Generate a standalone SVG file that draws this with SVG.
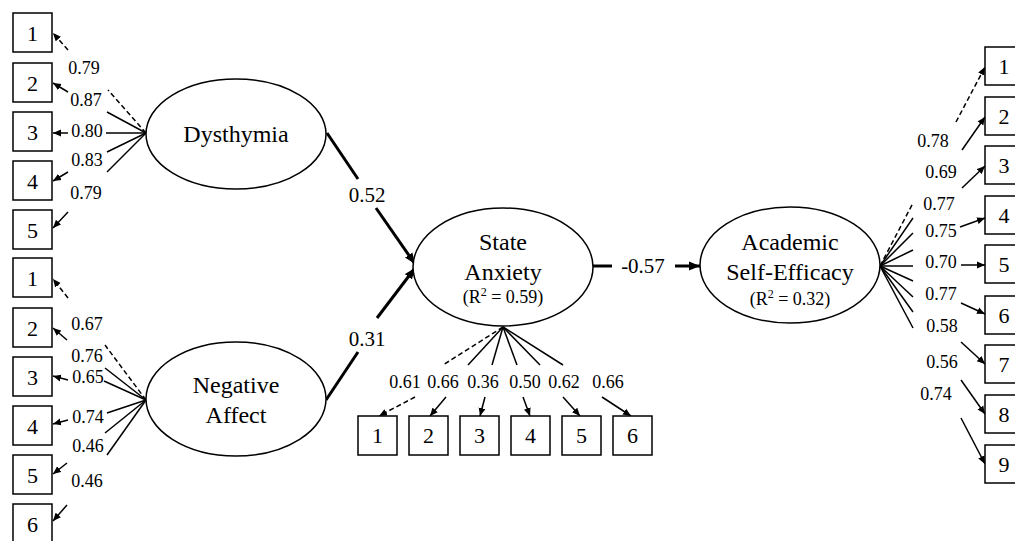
<svg xmlns="http://www.w3.org/2000/svg" width="1015" height="541" viewBox="0 0 1015 541">
<style>
text{font-family:"Liberation Serif","Times New Roman",serif;fill:#000}
.box{fill:#fff;stroke:#000;stroke-width:1.5}
.lat{fill:#fff;stroke:#000;stroke-width:1.5}
.dig{font-size:22px;text-anchor:middle}
.lt{font-size:24px;text-anchor:middle}
.r2{font-size:18px;text-anchor:middle}
.lab{font-size:18px;text-anchor:middle}
.slab{font-size:21px;text-anchor:middle}
.f{stroke:#000;stroke-width:1.5;fill:none}
.d{stroke-dasharray:5,3}
.a{marker-end:url(#ah)}
.s{stroke:#000;stroke-width:3;fill:none}
.sa{marker-end:url(#ahb)}
</style>
<defs>
<marker id="ah" markerUnits="userSpaceOnUse" markerWidth="9" markerHeight="8" refX="8" refY="4" orient="auto">
<path d="M0,0.5 L8,4 L0,7.5 z" fill="#000"/>
</marker>
<marker id="ahb" markerUnits="userSpaceOnUse" markerWidth="12" markerHeight="10" refX="11" refY="5" orient="auto">
<path d="M0,0.5 L11,5 L0,9.5 z" fill="#000"/>
</marker>
</defs>
<rect width="1015" height="541" fill="#fff"/>

<g id="connectors">
<!-- Dysthymia fan -->
<line class="f d" x1="146" y1="133" x2="108" y2="90"/>
<line class="f" x1="146" y1="133" x2="107" y2="112"/>
<line class="f" x1="146" y1="133" x2="106" y2="133"/>
<line class="f" x1="146" y1="133" x2="107" y2="152"/>
<line class="f" x1="146" y1="133" x2="107" y2="172"/>
<line class="f d a" x1="68" y1="50" x2="53" y2="33"/>
<line class="f a" x1="68" y1="92" x2="53" y2="83"/>
<line class="f a" x1="68" y1="133" x2="53" y2="133"/>
<line class="f a" x1="68" y1="172" x2="53" y2="181"/>
<line class="f a" x1="68" y1="212" x2="53" y2="228"/>
<!-- Negative Affect fan -->
<line class="f d" x1="146" y1="400" x2="105" y2="345"/>
<line class="f" x1="146" y1="400" x2="105" y2="368"/>
<line class="f" x1="146" y1="400" x2="104" y2="381"/>
<line class="f" x1="146" y1="400" x2="107" y2="413"/>
<line class="f" x1="146" y1="400" x2="105" y2="433"/>
<line class="f" x1="146" y1="400" x2="107" y2="455"/>
<line class="f d a" x1="68" y1="298" x2="53" y2="279"/>
<line class="f a" x1="67" y1="340" x2="53" y2="328"/>
<line class="f a" x1="68" y1="380" x2="53" y2="376"/>
<line class="f a" x1="68" y1="420" x2="53" y2="424"/>
<line class="f a" x1="67" y1="463" x2="53" y2="474"/>
<line class="f a" x1="67" y1="505" x2="53" y2="521"/>
<!-- State Anxiety fan -->
<line class="f d" x1="503" y1="327" x2="443" y2="365"/>
<line class="f" x1="503" y1="327" x2="468" y2="365"/>
<line class="f" x1="503" y1="327" x2="492" y2="365"/>
<line class="f" x1="503" y1="327" x2="517" y2="365"/>
<line class="f" x1="503" y1="327" x2="540" y2="365"/>
<line class="f" x1="503" y1="327" x2="563" y2="365"/>
<line class="f d a" x1="415" y1="397" x2="379" y2="416"/>
<line class="f a" x1="446" y1="397" x2="430" y2="416"/>
<line class="f a" x1="485" y1="397" x2="480" y2="416"/>
<line class="f a" x1="523" y1="397" x2="530" y2="416"/>
<line class="f a" x1="563" y1="397" x2="580" y2="416"/>
<line class="f a" x1="602" y1="397" x2="631" y2="416"/>
<!-- Academic Self-Efficacy fan -->
<line class="f d" x1="880" y1="266" x2="913" y2="203"/>
<line class="f" x1="880" y1="266" x2="913" y2="218"/>
<line class="f" x1="880" y1="266" x2="913" y2="233"/>
<line class="f" x1="880" y1="266" x2="913" y2="250"/>
<line class="f" x1="880" y1="266" x2="913" y2="266"/>
<line class="f" x1="880" y1="266" x2="913" y2="281"/>
<line class="f" x1="880" y1="266" x2="913" y2="297"/>
<line class="f" x1="880" y1="266" x2="913" y2="312"/>
<line class="f" x1="880" y1="266" x2="913" y2="328"/>
<line class="f d a" x1="956" y1="122" x2="985" y2="67"/>
<line class="f a" x1="962" y1="150" x2="985" y2="117"/>
<line class="f a" x1="962" y1="188" x2="985" y2="166"/>
<line class="f a" x1="960" y1="227" x2="985" y2="218"/>
<line class="f a" x1="961" y1="265" x2="985" y2="265"/>
<line class="f a" x1="961" y1="303" x2="985" y2="314"/>
<line class="f a" x1="961" y1="342" x2="985" y2="364"/>
<line class="f a" x1="961" y1="380" x2="985" y2="414"/>
<line class="f a" x1="961" y1="418" x2="985" y2="464"/>
<!-- structural paths -->
<line class="s" x1="327" y1="133" x2="358" y2="179"/>
<line class="s sa" x1="376" y1="208" x2="415" y2="264"/>
<line class="s" x1="326" y1="400" x2="358" y2="352"/>
<line class="s sa" x1="377" y1="318" x2="415" y2="268"/>
<line class="s" x1="593" y1="266" x2="612" y2="266"/>
<line class="s sa" x1="675" y1="266" x2="700" y2="266"/>
<!-- labels -->
<text class="lab" x="84" y="74">0.79</text>
<text class="lab" x="86" y="106">0.87</text>
<text class="lab" x="87" y="137">0.80</text>
<text class="lab" x="87" y="166">0.83</text>
<text class="lab" x="86" y="199">0.79</text>
<text class="lab" x="87" y="330">0.67</text>
<text class="lab" x="87" y="362">0.76</text>
<text class="lab" x="88" y="383">0.65</text>
<text class="lab" x="88" y="423">0.74</text>
<text class="lab" x="88" y="452">0.46</text>
<text class="lab" x="87" y="487">0.46</text>
<text class="lab" x="405" y="388">0.61</text>
<text class="lab" x="443" y="388">0.66</text>
<text class="lab" x="483" y="388">0.36</text>
<text class="lab" x="525" y="388">0.50</text>
<text class="lab" x="564" y="388">0.62</text>
<text class="lab" x="608" y="388">0.66</text>
<text class="lab" x="933" y="147">0.78</text>
<text class="lab" x="941" y="178">0.69</text>
<text class="lab" x="939" y="210">0.77</text>
<text class="lab" x="941" y="237">0.75</text>
<text class="lab" x="941" y="268">0.70</text>
<text class="lab" x="941" y="300">0.77</text>
<text class="lab" x="942" y="332">0.58</text>
<text class="lab" x="942" y="368">0.56</text>
<text class="lab" x="936" y="400">0.74</text>
<text class="slab" x="367" y="202">0.52</text>
<text class="slab" x="367" y="346">0.31</text>
<text class="slab" x="643" y="273">-0.57</text>
</g>

<g id="dysthymia">
<ellipse class="lat" cx="236" cy="134" rx="90" ry="55"/>
<text class="lt" x="236" y="142">Dysthymia</text>
</g>
<g id="negative-affect">
<ellipse class="lat" cx="236" cy="399" rx="90" ry="57"/>
<text class="lt" x="236" y="393">Negative</text>
<text class="lt" x="236" y="423">Affect</text>
</g>
<g id="state-anxiety">
<ellipse class="lat" cx="503" cy="267" rx="90" ry="59"/>
<text class="lt" x="503" y="250">State</text>
<text class="lt" x="503" y="280">Anxiety</text>
<text class="r2" x="503" y="303">(R<tspan font-size="12" dy="-7">2</tspan><tspan dy="7"> = 0.59)</tspan></text>
</g>
<g id="academic-self-efficacy">
<ellipse class="lat" cx="790" cy="265" rx="90" ry="58"/>
<text class="lt" x="790" y="250">Academic</text>
<text class="lt" x="790" y="280">Self-Efficacy</text>
<text class="r2" x="790" y="305">(R<tspan font-size="12" dy="-7">2</tspan><tspan dy="7"> = 0.32)</tspan></text>
</g>

<g id="dys-items">
<g id="d1"><rect class="box" x="13" y="13" width="39" height="39"/><text class="dig" x="32.5" y="41">1</text></g>
<g id="d2"><rect class="box" x="13" y="63" width="39" height="39"/><text class="dig" x="32.5" y="91">2</text></g>
<g id="d3"><rect class="box" x="13" y="112" width="39" height="39"/><text class="dig" x="32.5" y="140">3</text></g>
<g id="d4"><rect class="box" x="13" y="161" width="39" height="39"/><text class="dig" x="32.5" y="189">4</text></g>
<g id="d5"><rect class="box" x="13" y="210" width="39" height="39"/><text class="dig" x="32.5" y="238">5</text></g>
</g>
<g id="na-items">
<g id="n1"><rect class="box" x="13" y="258" width="39" height="39"/><text class="dig" x="32.5" y="286">1</text></g>
<g id="n2"><rect class="box" x="13" y="308" width="39" height="39"/><text class="dig" x="32.5" y="336">2</text></g>
<g id="n3"><rect class="box" x="13" y="357" width="39" height="39"/><text class="dig" x="32.5" y="385">3</text></g>
<g id="n4"><rect class="box" x="13" y="406" width="39" height="39"/><text class="dig" x="32.5" y="434">4</text></g>
<g id="n5"><rect class="box" x="13" y="455" width="39" height="39"/><text class="dig" x="32.5" y="483">5</text></g>
<g id="n6"><rect class="box" x="13" y="504" width="39" height="39"/><text class="dig" x="32.5" y="532">6</text></g>
</g>
<g id="sa-items">
<g id="s1"><rect class="box" x="358" y="416" width="39" height="39"/><text class="dig" x="377.5" y="443">1</text></g>
<g id="s2"><rect class="box" x="409" y="416" width="39" height="39"/><text class="dig" x="428.5" y="443">2</text></g>
<g id="s3"><rect class="box" x="460" y="416" width="39" height="39"/><text class="dig" x="479.5" y="443">3</text></g>
<g id="s4"><rect class="box" x="511" y="416" width="39" height="39"/><text class="dig" x="530.5" y="443">4</text></g>
<g id="s5"><rect class="box" x="562" y="416" width="39" height="39"/><text class="dig" x="581.5" y="443">5</text></g>
<g id="s6"><rect class="box" x="613" y="416" width="39" height="39"/><text class="dig" x="632.5" y="443">6</text></g>
</g>
<g id="ase-items">
<g id="e1"><rect class="box" x="985" y="47" width="39" height="38"/><text class="dig" x="1004" y="74">1</text></g>
<g id="e2"><rect class="box" x="985" y="97" width="39" height="38"/><text class="dig" x="1004" y="124">2</text></g>
<g id="e3"><rect class="box" x="985" y="146" width="39" height="38"/><text class="dig" x="1004" y="173">3</text></g>
<g id="e4"><rect class="box" x="985" y="196" width="39" height="38"/><text class="dig" x="1004" y="223">4</text></g>
<g id="e5"><rect class="box" x="985" y="245" width="39" height="38"/><text class="dig" x="1004" y="272">5</text></g>
<g id="e6"><rect class="box" x="985" y="296" width="39" height="38"/><text class="dig" x="1004" y="323">6</text></g>
<g id="e7"><rect class="box" x="985" y="345" width="39" height="38"/><text class="dig" x="1004" y="372">7</text></g>
<g id="e8"><rect class="box" x="985" y="395" width="39" height="38"/><text class="dig" x="1004" y="422">8</text></g>
<g id="e9"><rect class="box" x="985" y="445" width="39" height="38"/><text class="dig" x="1004" y="472">9</text></g>
</g>
</svg>
